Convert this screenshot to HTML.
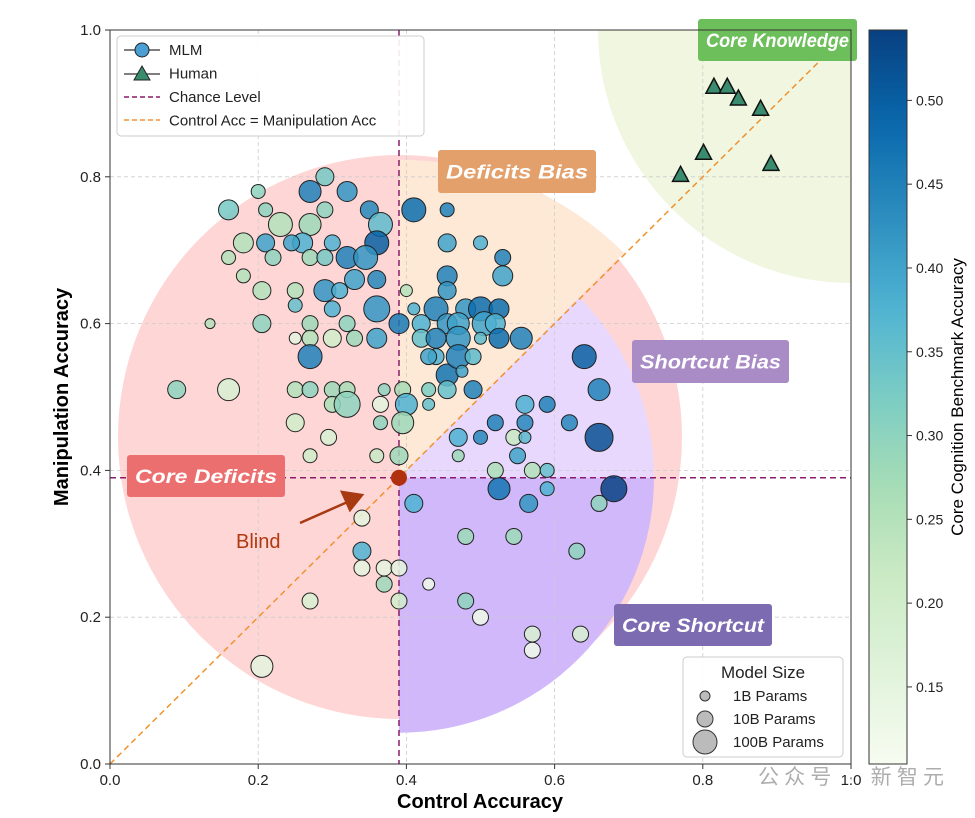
<!DOCTYPE html>
<html><head><meta charset="utf-8"><style>
body{margin:0;background:#fff;font-family:"Liberation Sans","Noto Sans CJK SC",sans-serif}
</style></head><body>
<svg id="chart" width="975" height="813" xmlns="http://www.w3.org/2000/svg" font-family="Liberation Sans, Noto Sans CJK SC, sans-serif"></svg>
<script>
const ctrl=[0.29,0.20,0.16,0.21,0.23,0.27,0.26,0.29,0.27,0.32,0.35,0.365,0.36,0.18,0.21,0.245,0.27,0.29,0.22,0.16,0.32,0.345,0.30,0.33,0.36,0.18,0.205,0.25,0.29,0.31,0.25,0.27,0.30,0.32,0.36,0.41,0.135,0.205,0.30,0.33,0.27,0.36,0.39,0.27,0.25,0.09,0.16,0.25,0.27,0.30,0.32,0.37,0.395,0.43,0.30,0.32,0.365,0.40,0.43,0.25,0.295,0.365,0.395,0.27,0.36,0.39,
0.41,0.455,0.455,0.50,0.53,0.455,0.455,0.53,0.40,0.44,0.48,0.50,0.525,0.455,0.42,0.47,0.505,0.52,0.555,0.42,0.44,0.47,0.50,0.525,0.44,0.455,0.47,0.49,0.43,0.455,0.49,0.475,
0.64,0.66,0.56,0.59,0.52,0.56,0.62,0.66,0.47,0.50,0.545,0.56,0.55,0.47,0.52,0.57,0.59,0.525,0.59,0.68,0.41,0.565,0.66,
0.34,0.34,0.34,0.37,0.39,0.37,0.43,0.48,0.545,0.63,0.39,0.27,0.48,0.50,0.57,0.57,0.635,0.205];
const manip=[0.80,0.78,0.755,0.755,0.735,0.735,0.71,0.755,0.78,0.78,0.755,0.735,0.71,0.71,0.71,0.71,0.69,0.69,0.69,0.69,0.69,0.69,0.71,0.66,0.66,0.665,0.645,0.645,0.645,0.645,0.625,0.60,0.62,0.60,0.62,0.62,0.60,0.60,0.58,0.58,0.58,0.58,0.60,0.555,0.58,0.51,0.51,0.51,0.51,0.51,0.51,0.51,0.51,0.51,0.49,0.49,0.49,0.49,0.49,0.465,0.445,0.465,0.465,0.42,0.42,0.42,
0.755,0.755,0.71,0.71,0.69,0.665,0.645,0.665,0.645,0.62,0.62,0.62,0.62,0.60,0.60,0.60,0.60,0.60,0.58,0.58,0.58,0.58,0.58,0.58,0.555,0.53,0.555,0.555,0.555,0.51,0.51,0.535,
0.555,0.51,0.49,0.49,0.465,0.465,0.465,0.445,0.445,0.445,0.445,0.445,0.42,0.42,0.40,0.40,0.40,0.375,0.375,0.375,0.355,0.355,0.355,
0.335,0.29,0.267,0.267,0.267,0.245,0.245,0.31,0.31,0.29,0.222,0.222,0.222,0.20,0.177,0.155,0.177,0.133];
const score=[0.33,0.30,0.33,0.30,0.25,0.28,0.38,0.30,0.45,0.42,0.44,0.36,0.50,0.25,0.40,0.40,0.28,0.33,0.30,0.25,0.45,0.42,0.38,0.40,0.44,0.25,0.25,0.25,0.42,0.38,0.35,0.28,0.38,0.30,0.42,0.38,0.25,0.30,0.20,0.28,0.25,0.40,0.46,0.45,0.15,0.30,0.18,0.25,0.30,0.28,0.27,0.30,0.27,0.32,0.26,0.30,0.15,0.38,0.35,0.20,0.18,0.30,0.28,0.20,0.22,0.28,
0.48,0.45,0.40,0.38,0.45,0.45,0.42,0.40,0.25,0.45,0.42,0.48,0.48,0.42,0.38,0.40,0.40,0.38,0.45,0.35,0.45,0.42,0.36,0.48,0.38,0.47,0.45,0.36,0.40,0.35,0.45,0.40,
0.50,0.45,0.38,0.45,0.45,0.44,0.44,0.52,0.38,0.44,0.22,0.36,0.40,0.28,0.26,0.25,0.35,0.47,0.38,0.54,0.38,0.42,0.30,
0.15,0.38,0.15,0.15,0.15,0.28,0.12,0.28,0.28,0.30,0.20,0.18,0.30,0.12,0.18,0.12,0.18,0.15];
const radius=[9,7,10,7,12,11,10,8,11,10,9,12,12,10,9,8,8,8,8,7,11,12,8,10,9,7,9,8,11,8,7,8,8,8,13,6,5,9,9,8,8,10,10,12,6,9,11,8,8,8,8,6,8,7,8,13,8,11,6,9,8,7,11,7,7,9,
12,7,9,7,8,10,9,10,6,12,10,12,10,10,9,11,12,10,11,9,10,12,6,10,8,11,12,8,8,9,9,6,
12,11,9,8,8,8,8,14,9,7,8,6,8,6,8,8,7,11,7,13,9,9,8,
8,9,8,8,8,8,6,8,8,8,8,8,8,8,8,8,8,11];
const humanCtrl=[0.815,0.833,0.848,0.878,0.892,0.801,0.77];
const humanManip=[0.922,0.922,0.906,0.892,0.817,0.832,0.802];
const xTicks=[0,0.2,0.4,0.6,0.8,1.0];
const yTicks=[0,0.2,0.4,0.6,0.8,1.0];
const cbTicks=[0.15,0.20,0.25,0.30,0.35,0.40,0.45,0.50];
const chance=0.39;

const X0=110,X1=851,Y0=764,Y1=30;
const sx=v=>X0+v*(X1-X0), sy=v=>Y0-v*(Y0-Y1);
const vmin=0.104,vmax=0.542;
const stops=[[247,252,240],[224,243,219],[204,235,197],[168,221,181],[123,204,196],[78,179,211],[43,140,190],[8,104,172],[8,64,129]];
function cmap(v){let t=Math.max(0,Math.min(1,(v-vmin)/(vmax-vmin)))*(stops.length-1);let i=Math.min(stops.length-2,Math.floor(t)),f=t-i;const c=stops[i].map((a,k)=>Math.round(a+(stops[i+1][k]-a)*f));return `rgb(${c})`;}
const NS="http://www.w3.org/2000/svg",svg=document.getElementById('chart');
function el(tag,attrs,parent){const e=document.createElementNS(NS,tag);for(const k in attrs)e.setAttribute(k,attrs[k]);(parent||svg).appendChild(e);return e;}
function txt(s,attrs,parent){const e=el('text',attrs,parent);e.textContent=s;return e;}
const defs=el('defs',{});
const cp=el('clipPath',{id:'plotclip'},defs);el('rect',{x:X0,y:Y1,width:X1-X0,height:Y0-Y1},cp);
const grad=el('linearGradient',{id:'cbgrad',x1:0,y1:1,x2:0,y2:0},defs);
for(let i=0;i<=20;i++){el('stop',{offset:i/20,'stop-color':cmap(vmin+(vmax-vmin)*i/20)},grad);}
const bg=el('g',{'clip-path':'url(#plotclip)'});

const cx=sx(chance),cy=sy(chance);
const g1=el('circle',{cx:X1,cy:Y1,r:253,fill:'#f0f6e0'},bg);
const pc=el('circle',{cx:400,cy:437,r:282,fill:'#ffd6d6'},bg);
function wedge(r,a0,a1){const p=a=>[cx+r*Math.cos(a),cy-r*Math.sin(a)];const [ax,ay]=p(a0),[bx,by]=p(a1);return `M${cx},${cy}L${ax},${ay}A${r},${r} 0 0 0 ${bx},${by}Z`;}
const ow=el('path',{d:wedge(318,Math.PI/4,Math.PI/2),fill:'#fee8d6'},bg);
const lp=el('path',{d:wedge(255,0,Math.PI/4),fill:'#e8d8fd'},bg);
const dp=el('path',{d:wedge(255,-Math.PI/2,0),fill:'#d0b8fb'},bg);
xTicks.forEach(t=>{const l=el('line',{x1:sx(t),x2:sx(t),y1:Y1,y2:Y0,stroke:'#ccc','stroke-dasharray':'4,3','stroke-width':0.8});});
yTicks.forEach(t=>{const l=el('line',{y1:sy(t),y2:sy(t),x1:X0,x2:X1,stroke:'#ccc','stroke-dasharray':'4,3','stroke-width':0.8});});
const dg=el('line',{x1:sx(0),y1:sy(0),x2:sx(1),y2:sy(1),stroke:'#f0922e','stroke-width':1.5,'stroke-dasharray':'6,4'});
const cv=el('line',{x1:cx,x2:cx,y1:Y1,y2:Y0,stroke:'#8b1a6b','stroke-width':1.5,'stroke-dasharray':'6,4'});
const ch=el('line',{x1:X0,x2:X1,y1:cy,y2:cy,stroke:'#8b1a6b','stroke-width':1.5,'stroke-dasharray':'6,4'});
const pts=el('g',{'clip-path':'url(#plotclip)'});
ctrl.forEach((c,i)=>{const p=el('circle',{cx:sx(c),cy:sy(manip[i]),r:radius[i],fill:cmap(score[i]),'fill-opacity':0.85,stroke:'#222','stroke-width':1},pts);});
humanCtrl.forEach((c,i)=>{const x=sx(c),y=sy(humanManip[i]);const p=el('polygon',{points:`${x},${y-9} ${x-8},${y+6} ${x+8},${y+6}`,fill:'#3a8c6e',stroke:'#111','stroke-width':1.5},pts);});
const bd=el('circle',{cx:cx,cy:cy,r:8,fill:'#b03010'});
const ar=el('path',{d:'M300,523 L352,500 M342,492 L362,495 L350,510 Z',stroke:'#a83a12','stroke-width':2.5,fill:'#a83a12'});
const bt=txt('Blind',{x:236,y:548,'font-size':20,fill:'#b03a10'});
[['Core Knowledge',698,19,159,42,'#6dbf5b'],['Deficits Bias',438,150,158,43,'#e3a06b'],['Shortcut Bias',632,340,157,43,'#a98bc6'],['Core Deficits',127,455,158,42,'#ec6f6f'],['Core Shortcut',614,604,158,42,'#7d6bb2']].forEach(d=>{
const g=el('g',{});
el('rect',{x:d[1],y:d[2],width:d[3],height:d[4],rx:3,fill:d[5]},g);
txt(d[0],{x:d[1]+d[3]/2,y:d[2]+d[4]/2+7,'text-anchor':'middle','font-size':19,'font-weight':'bold','font-style':'italic',fill:'#fff',textLength:d[3]-16,lengthAdjust:'spacingAndGlyphs'},g);});
const fr=el('rect',{x:X0,y:Y1,width:X1-X0,height:Y0-Y1,fill:'none',stroke:'#333','stroke-width':1});
xTicks.forEach(t=>{el('line',{x1:sx(t),x2:sx(t),y1:Y0,y2:Y0+5,stroke:'#333'});const e=txt(t.toFixed(1),{x:sx(t),y:Y0+21,'text-anchor':'middle','font-size':15,fill:'#222'});});
yTicks.forEach(t=>{el('line',{x1:X0-5,x2:X0,y1:sy(t),y2:sy(t),stroke:'#333'});const e=txt(t.toFixed(1),{x:X0-9,y:sy(t)+5,'text-anchor':'end','font-size':15,fill:'#222'});});
const xt=txt('Control Accuracy',{x:480,y:808,'text-anchor':'middle','font-size':20,'font-weight':'bold'});
const yt=txt('Manipulation Accuracy',{x:0,y:0,'text-anchor':'middle','font-size':20,'font-weight':'bold',transform:'translate(68,397) rotate(-90)'});
const cb=el('rect',{x:869,y:Y1,width:38,height:Y0-Y1,fill:'url(#cbgrad)',stroke:'#333'});
const cs=v=>Y0-(v-vmin)/(vmax-vmin)*(Y0-Y1);
cbTicks.forEach(t=>{el('line',{x1:907,x2:912,y1:cs(t),y2:cs(t),stroke:'#333'});const e=txt(t.toFixed(2),{x:916,y:cs(t)+5,'font-size':14,fill:'#222'});});
const ct=txt('Core Cognition Benchmark Accuracy',{x:0,y:0,'text-anchor':'middle','font-size':17,transform:'translate(963,397) rotate(-90)'});
const lg=el('g',{});
el('rect',{x:117,y:36,width:307,height:100,rx:4,fill:'#fff','fill-opacity':0.9,stroke:'#ccc'},lg);
el('line',{x1:124,x2:160,y1:50,y2:50,stroke:'#555','stroke-width':1.5},lg);el('circle',{cx:142,cy:50,r:7,fill:'#4a9fd4',stroke:'#222'},lg);
el('line',{x1:124,x2:160,y1:74,y2:74,stroke:'#555','stroke-width':1.5},lg);el('polygon',{points:'142,66 134,80 150,80',fill:'#3a8c6e',stroke:'#222'},lg);
el('line',{x1:124,x2:160,y1:97,y2:97,stroke:'#8b1a6b','stroke-width':1.5,'stroke-dasharray':'5,3'},lg);
el('line',{x1:124,x2:160,y1:120,y2:120,stroke:'#f0922e','stroke-width':1.5,'stroke-dasharray':'5,3'},lg);
['MLM','Human','Chance Level','Control Acc = Manipulation Acc'].forEach((s,i)=>{const e=txt(s,{x:169,y:55+i*23.5,'font-size':15,fill:'#222'},lg);});
const ms=el('g',{});
el('rect',{x:683,y:657,width:160,height:100,rx:4,fill:'#fff','fill-opacity':0.9,stroke:'#ccc'},ms);
txt('Model Size',{x:763,y:678,'text-anchor':'middle','font-size':17,fill:'#222'},ms);
[[5,'1B Params',696],[8,'10B Params',719],[12,'100B Params',742]].forEach(d=>{el('circle',{cx:705,cy:d[2],r:d[0],fill:'#bbb',stroke:'#333'},ms);const e=txt(d[1],{x:733,y:d[2]+5,'font-size':15,fill:'#222'},ms);});
const wm=txt('公众号 · 新智元',{x:758,y:784,'font-size':21,fill:'#999','fill-opacity':0.8,textLength:186,lengthAdjust:'spacing'});
</script>
</body></html>
